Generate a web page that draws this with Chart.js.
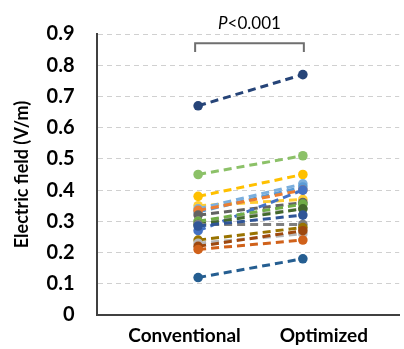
<!DOCTYPE html>
<html><head><meta charset="utf-8">
<script src="https://cdn.jsdelivr.net/npm/chart.js@4"></script>
<style>html,body{margin:0;padding:0;background:#fff}#w{width:404px;height:349px}</style>
</head><body><div id="w"><canvas id="c"></canvas></div>
<script>
const categories = ['Conventional', 'Optimized'];
const yTicks = [0, 0.1, 0.2, 0.3, 0.4, 0.5, 0.6, 0.7, 0.8, 0.9];
const pLabel = 'P<0.001';
const s01 = [0.67, 0.77];
const s02 = [0.45, 0.51];
const s03 = [0.38, 0.45];
const s04 = [0.35, 0.37];
const s05 = [0.34, 0.42];
const s06 = [0.33, 0.41];
const s07 = [0.335, 0.40];
const s08 = [0.32, 0.36];
const s09 = [0.30, 0.34];
const s10 = [0.29, 0.29];
const s11 = [0.30, 0.355];
const s12 = [0.29, 0.34];
const s13 = [0.285, 0.32];
const s14 = [0.27, 0.40];
const s15 = [0.24, 0.28];
const s16 = [0.23, 0.26];
const s17 = [0.22, 0.27];
const s18 = [0.21, 0.24];
const s19 = [0.12, 0.18];
const series = [
  [s19,'#255E91'],[s18,'#D0611A'],[s17,'#9E480E'],[s16,'#B7B7B7'],[s15,'#997300'],
  [s13,'#2F5597'],[s10,'#7F7F7F'],[s12,'#43682B'],[s11,'#70AD47'],[s09,'#A5A5A5'],
  [s14,'#4472C4'],[s08,'#636363'],[s07,'#ED7D31'],[s06,'#5B9BD5'],[s05,'#7CAFDD'],
  [s04,'#FFCD33'],[s03,'#FFC000'],[s02,'#8CC168'],[s01,'#264478']
];
const datasets = series.map(([vals,col]) => ({
  data: vals.map((v,i) => ({x: i+1, y: v})),
  borderColor: col, backgroundColor: col,
  borderWidth: 3, borderDash: [8,5],
  pointRadius: 4.8, pointHoverRadius: 4.8, pointBorderWidth: 0,
  showLine: true, fill: false
}));
const labelPos = [0.87, 2.2];
const bracket = {
  id: 'bracket',
  afterDraw(chart) {
    const ctx = chart.ctx, xs = chart.scales.x, ys = chart.scales.y;
    const x1 = xs.getPixelForValue(1) - 3, x2 = xs.getPixelForValue(2) + 1;
    const yTop = ys.getPixelForValue(0.87), yBot = ys.getPixelForValue(0.842);
    ctx.save();
    ctx.setLineDash([]);
    ctx.strokeStyle = '#6f6f6f'; ctx.lineWidth = 2;
    ctx.beginPath();
    ctx.moveTo(x1, yBot); ctx.lineTo(x1, yTop); ctx.lineTo(x2, yTop); ctx.lineTo(x2, yBot);
    ctx.stroke();
    const cx = (x1 + x2) / 2, ty = ys.getPixelForValue(0.935);
    ctx.fillStyle = '#000'; ctx.textBaseline = 'middle';
    ctx.font = 'italic 17px Lato';
    const p = pLabel.slice(0,1), rest = pLabel.slice(1);
    const wp = ctx.measureText(p).width;
    ctx.font = '17px Lato';
    const wr = ctx.measureText(rest).width;
    const start = cx - (wp + wr) / 2;
    ctx.textAlign = 'left';
    ctx.font = 'italic 17px Lato'; ctx.fillText(p, start, ty);
    ctx.font = '17px Lato'; ctx.fillText(rest, start + wp, ty);
    ctx.restore();
  }
};
new Chart(document.getElementById('c'), {
  type: 'scatter',
  data: { datasets },
  plugins: [bracket],
  options: {
    responsive: true, maintainAspectRatio: false, animation: false,
    layout: { padding: { top: 17, right: 0, left: 3, bottom: 0 } },
    plugins: { legend: { display: false }, tooltip: { enabled: false } },
    scales: {
      x: {
        type: 'linear', min: 0.03, max: 2.92,
        afterBuildTicks: (ax) => { ax.ticks = labelPos.map(v => ({value: v})); },
        ticks: { callback: (v) => categories[labelPos.indexOf(v)] || '', color: '#000', padding: 1,
                 font: { family: 'Lato', size: 19, weight: 'bold' }, maxRotation: 0, autoSkip: false },
        grid: { display: false },
        border: { color: '#404040', width: 2 }
      },
      y: {
        min: 0, max: 0.9,
        afterBuildTicks: (ax) => { ax.ticks = yTicks.map(v => ({value: v})); },
        ticks: { callback: (v) => String(+v.toFixed(1)), color: '#000', padding: 22,
                 font: { family: 'Lato', size: 20, weight: 'bold' } },
        grid: { color: (c) => c.tick.value === 0 ? 'rgba(0,0,0,0)' : '#d0d0d0', lineWidth: 1, drawTicks: false },
        border: { color: '#404040', width: 2, dash: [5,4] },
        title: { display: true, text: 'Electric field (V/m)', color: '#000', padding: { top: 8, bottom: -8 },
                 font: { family: 'Lato', size: 18, weight: 'bold' } }
      }
    }
  }
});
</script></body></html>
